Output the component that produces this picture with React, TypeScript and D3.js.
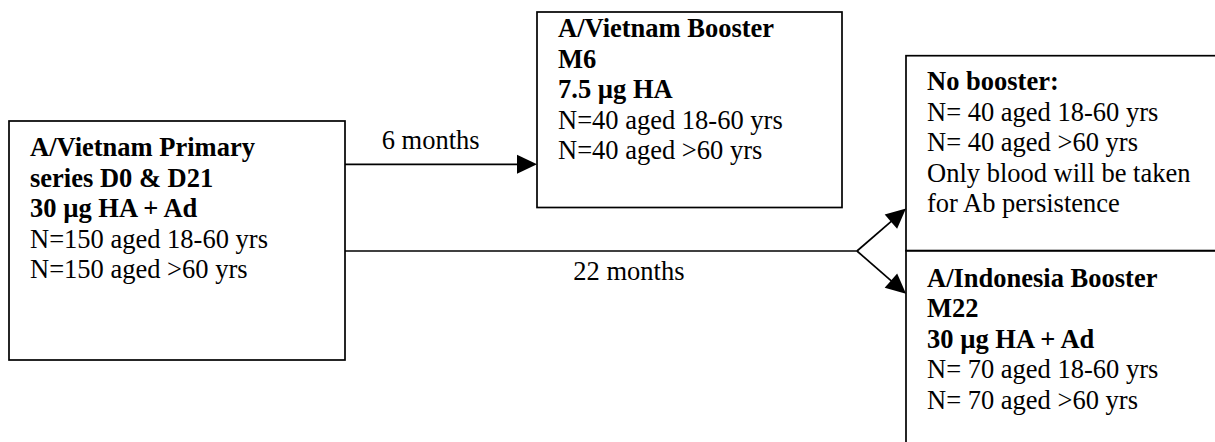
import * as d3 from "d3";
import { useEffect, useRef } from "react";

// ---- text content ----
const primaryBold = ["A/Vietnam Primary", "series D0 & D21", "30 µg HA + Ad"];
const primaryPlain = ["N=150 aged 18-60 yrs", "N=150 aged >60 yrs"];
const vietnamBold = ["A/Vietnam Booster", "M6", "7.5 µg HA"];
const vietnamPlain = ["N=40 aged 18-60 yrs", "N=40 aged >60 yrs"];
const noBoosterBold = ["No booster:"];
const noBoosterPlain = ["N= 40 aged 18-60 yrs", "N= 40 aged >60 yrs", "Only blood will be taken", "for Ab persistence"];
const indonesiaBold = ["A/Indonesia Booster", "M22", "30 µg HA + Ad"];
const indonesiaPlain = ["N= 70 aged 18-60 yrs", "N= 70 aged >60 yrs"];
const intervals = ["6 months", "22 months"];

export default function App() {
  const ref = useRef<SVGSVGElement | null>(null);

  useEffect(() => {
    const width = 1215;
    const height = 442;
    const fontSize = 26.5;
    const lineH = 30.5;
    const stroke = 1.7;

    const svg = d3.select(ref.current);
    svg.selectAll("*").remove();
    svg.attr("viewBox", `0 0 ${width} ${height}`);

    // ---- layout (pixel positions of the boxes) ----
    const boxes = [
      { x: 9, y: 121, w: 336, h: 239, first: 35, bold: primaryBold, plain: primaryPlain },
      { x: 537, y: 12, w: 305, h: 195.5, first: 25, bold: vietnamBold, plain: vietnamPlain },
      { x: 906, y: 55.7, w: 400, h: 195, first: 34.5, bold: noBoosterBold, plain: noBoosterPlain },
      { x: 906, y: 250.7, w: 400, h: 260, first: 35.8, bold: indonesiaBold, plain: indonesiaPlain },
    ];
    const pad = 21;

    const g = svg.append("g");

    g.selectAll("rect.box")
      .data(boxes)
      .join("rect")
      .attr("class", "box")
      .attr("x", (d) => d.x)
      .attr("y", (d) => d.y)
      .attr("width", (d) => d.w)
      .attr("height", (d) => d.h)
      .attr("fill", "none")
      .attr("stroke", "#000")
      .attr("stroke-width", stroke);

    boxes.forEach((b) => {
      const lines = [
        ...b.bold.map((t) => ({ t, bold: true })),
        ...b.plain.map((t) => ({ t, bold: false })),
      ];
      g.append("g")
        .selectAll("text")
        .data(lines)
        .join("text")
        .attr("x", b.x + pad)
        .attr("y", (_, i) => b.y + b.first + i * lineH)
        .attr("font-family", "'Liberation Serif', 'Times New Roman', serif")
        .attr("font-size", fontSize)
        .attr("font-weight", (d) => (d.bold ? 700 : 400))
        .attr("fill", "#000")
        .text((d) => d.t);
    });

    // ---- arrows ----
    const arrowLen = 20;
    const arrowHalf = 9.5;
    const arrows = [
      { x1: 345, y1: 164.3, x2: 537, y2: 164.3, head: true },
      { x1: 345, y1: 251, x2: 857, y2: 251, head: false },
      { x1: 857, y1: 251, x2: 906, y2: 208.5, head: true },
      { x1: 857, y1: 251, x2: 906, y2: 293.8, head: true },
    ];

    g.selectAll("line.arrow")
      .data(arrows)
      .join("line")
      .attr("class", "arrow")
      .attr("x1", (d) => d.x1)
      .attr("y1", (d) => d.y1)
      .attr("x2", (d) => {
        if (!d.head) return d.x2;
        const a = Math.atan2(d.y2 - d.y1, d.x2 - d.x1);
        return d.x2 - Math.cos(a) * (arrowLen - 2);
      })
      .attr("y2", (d) => {
        if (!d.head) return d.y2;
        const a = Math.atan2(d.y2 - d.y1, d.x2 - d.x1);
        return d.y2 - Math.sin(a) * (arrowLen - 2);
      })
      .attr("stroke", "#000")
      .attr("stroke-width", stroke);

    g.selectAll("path.head")
      .data(arrows.filter((d) => d.head))
      .join("path")
      .attr("class", "head")
      .attr("d", (d) => {
        const a = Math.atan2(d.y2 - d.y1, d.x2 - d.x1);
        const bx = d.x2 - Math.cos(a) * arrowLen;
        const by = d.y2 - Math.sin(a) * arrowLen;
        const px = -Math.sin(a) * arrowHalf;
        const py = Math.cos(a) * arrowHalf;
        const p = d3.path();
        p.moveTo(d.x2, d.y2);
        p.lineTo(bx + px, by + py);
        p.lineTo(bx - px, by - py);
        p.closePath();
        return p.toString();
      })
      .attr("fill", "#000");

    // ---- interval labels ----
    const labelPos = [
      { x: 381.7, y: 149.3 },
      { x: 573.3, y: 280 },
    ];
    g.append("g")
      .selectAll("text")
      .data(intervals)
      .join("text")
      .attr("x", (_, i) => labelPos[i].x)
      .attr("y", (_, i) => labelPos[i].y)
      .attr("font-family", "'Liberation Serif', 'Times New Roman', serif")
      .attr("font-size", fontSize)
      .attr("fill", "#000")
      .text((d) => d);
  }, []);

  return (
    <svg
      ref={ref}
      width={1215}
      height={442}
      style={{ position: "absolute", left: 0, top: 0, background: "#fff", display: "block" }}
    />
  );
}
